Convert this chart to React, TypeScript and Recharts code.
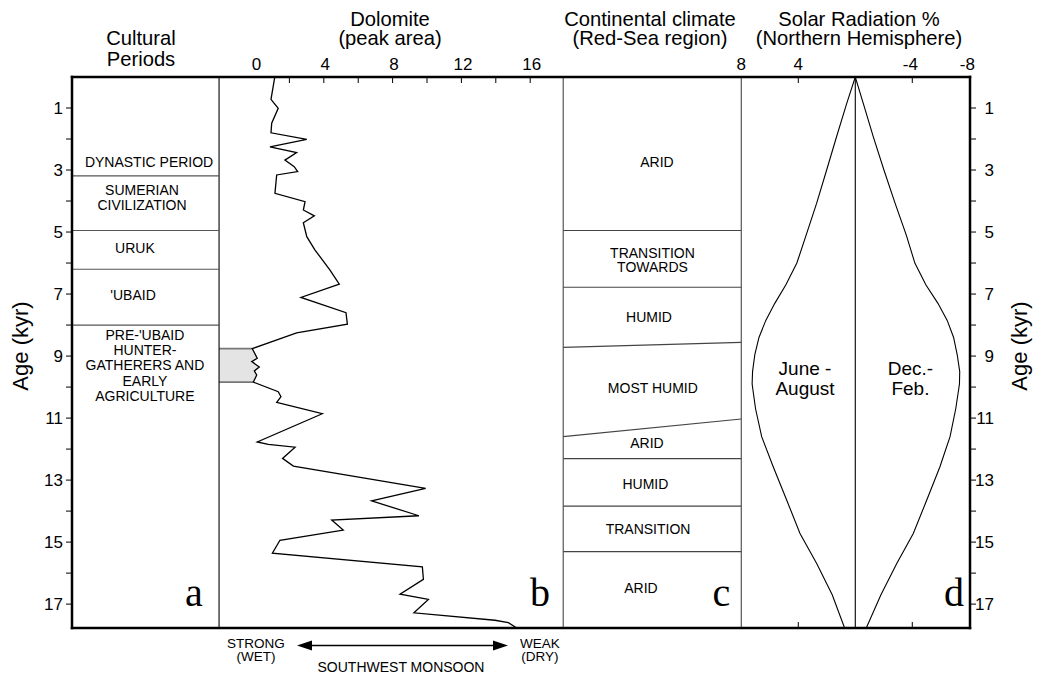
import React from 'react';
import { ComposedChart, Line, Area, XAxis, YAxis, ReferenceLine, ReferenceDot } from 'recharts';

// ---------------- data ----------------
const AGE_TICKS = [1, 2, 3, 4, 5, 6, 7, 8, 9, 10, 11, 12, 13, 14, 15, 16, 17];
const DOLOMITE_TICKS = [0, 2, 4, 6, 8, 10, 12, 14, 16];
const SOLAR_TICKS = [8, 4, -4, -8];
const SOLAR_BOTTOM_TICKS = [4, -4];

// Dolomite peak area vs age (kyr)
const DOL_AGE = [0, 0.72, 1.01, 1.49, 1.8, 2.01, 2.25, 2.44, 2.68, 2.89, 3.05, 3.16, 3.75, 4.02, 4.29, 4.48, 4.7, 5.15, 5.58, 6.23, 6.68, 7.11, 7.6, 7.97, 8.25, 8.76, 9.07, 9.18, 9.35, 9.48, 9.61, 9.84, 10.15, 10.31, 10.49, 10.86, 11.77, 11.85, 11.94, 12.3, 12.55, 13.27, 13.67, 14.15, 14.29, 14.61, 14.94, 15.36, 15.8, 16.2, 16.68, 16.85, 17.28, 17.52, 17.6, 17.77];
const DOL_VALUE = [1.15, 0.93, 1.35, 0.97, 0.93, 3.01, 0.87, 2.42, 1.74, 2.28, 2.48, 1.26, 1.16, 2.91, 2.81, 3.45, 2.81, 3.01, 3.49, 4.36, 4.9, 2.67, 5.29, 5.37, 2.42, -0.16, 0.13, -0.19, 0.25, -0.04, 0.1, -0.1, 1.35, 1.51, 1.26, 3.91, 0.13, 0.77, 2.33, 1.6, 2.23, 9.92, 6.78, 9.53, 4.46, 5.13, 1.45, 1.01, 9.73, 9.79, 8.43, 10.08, 9.24, 13.95, 14.73, 15.22];
const GRAY_BAND = [8.76, 9.84];

// Solar radiation anomaly (%)
const SOLAR_AGE = [0, 0.85, 1.92, 3.0, 4.07, 5.1, 6.0, 6.7, 7.3, 7.85, 8.4, 8.95, 9.5, 9.9, 10.7, 11.6, 12.57, 13.65, 14.72, 15.69, 16.7, 17.77];
const JUNE_AUGUST = [0, 0.6, 1.31, 2.01, 2.71, 3.45, 4.1, 4.87, 5.65, 6.28, 6.76, 7.05, 7.21, 7.24, 7.0, 6.57, 5.76, 4.81, 3.88, 2.71, 1.62, 0.75];
const DEC_FEB = [0, -0.56, -1.26, -2.01, -2.79, -3.58, -4.18, -4.95, -5.8, -6.45, -6.9, -7.15, -7.33, -7.31, -7.05, -6.65, -5.94, -5.01, -4.07, -2.91, -1.8, -0.77];

// Boundaries (kyr)
const CULTURAL_BOUNDS = [3.19, 4.95, 6.2, 8.0];
const CLIMATE_BOUNDS = [[4.95, 4.95], [6.78, 6.78], [8.72, 8.56], [11.6, 11.03], [12.31, 12.31], [13.84, 13.84], [15.31, 15.31]];

const CULTURAL_NAMES = [['DYNASTIC PERIOD'], ['SUMERIAN', 'CIVILIZATION'], ['URUK'], ["'UBAID"], ["PRE-'UBAID", 'HUNTER-', 'GATHERERS AND', 'EARLY', 'AGRICULTURE']];
const CLIMATE_NAMES = [['ARID'], ['TRANSITION', 'TOWARDS'], ['HUMID'], ['MOST HUMID'], ['ARID'], ['HUMID'], ['TRANSITION'], ['ARID']];
const SEASON_NAMES = [['June -', 'August'], ['Dec.-', 'Feb.']];

// ---------------- layout ----------------
const W = 1040;
const H = 675;
const AX = 1; // thickness given to each axis box
const MARGIN = { top: 77 - 2 * AX, right: 70 - AX, bottom: 47 - AX, left: 72 - AX };
const AGE_DOMAIN: [number, number] = [0, 17.77];
const DOL_DOMAIN: [number, number] = [-10.64, 41.57];
const SOL_DOMAIN: [number, number] = [-8.05, 54.97];
const PANEL_AB = -2.09; // dolomite units
const PANEL_BC = 17.92; // dolomite units
const PANEL_CD_DOL = 28.27; // dolomite units
const PANEL_CD_SOL = 8; // solar units

const CULTURAL_POS = [[-6.16, 2.91], [-6.57, 3.81], [-6.98, 5.67], [-7.09, 7.19], [-6.4, 8.48]];
const CLIMATE_POS = [[23.37, 2.9], [23.11, 5.83], [22.91, 7.9], [23.13, 10.2], [22.79, 11.98], [22.7, 13.3], [22.85, 14.74], [22.44, 16.65]];
const SEASON_POS = [[3.53, 9.61], [-3.87, 9.61]];
const LETTER_AGE = 17.06;

const SANS = '"Liberation Sans", Arial, Helvetica, sans-serif';
const SERIF = '"Liberation Serif", "Times New Roman", serif';
const FRAME = { stroke: '#000', strokeWidth: 2.5, strokeLinecap: 'square' as const };
const TITLE = 20.2;

const dolData = DOL_AGE.map((age, i) => ({ age, v: DOL_VALUE[i] }));
const grayData = dolData.filter((d) => d.age >= GRAY_BAND[0] && d.age <= GRAY_BAND[1]);
const solarData = SOLAR_AGE.map((age, i) => ({ age, jja: JUNE_AUGUST[i], djf: DEC_FEB[i] }));

function textShape(lines: string[], size: number, lineHeight: number, family: string) {
  return (p: any) => (
    <text x={p.cx} y={p.cy} textAnchor="middle" fontSize={size} fontFamily={family} fill="#000">
      {lines.map((l, i) => (
        <tspan key={i} x={p.cx} dy={i === 0 ? 0 : lineHeight}>
          {l}
        </tspan>
      ))}
    </text>
  );
}

const DolTick = (p: any) => {
  const v = p.payload.value;
  return (
    <g>
      {v !== 0 && <line x1={p.x} y1={p.y} x2={p.x} y2={p.y + 6} stroke="#000" strokeWidth={1} />}
      {v % 4 === 0 && (
        <text x={p.x + 1.5} y={p.y - 7} textAnchor="middle" fontSize={17} fontFamily={SANS} fill="#000">
          {v}
        </text>
      )}
    </g>
  );
};

// the solar top axis is stacked one axis box above the dolomite one
const SolTick = (p: any) => {
  const v = p.payload.value;
  const y = p.y + AX;
  return (
    <g>
      {Math.abs(v) === 4 && <line x1={p.x} y1={y} x2={p.x} y2={y + 6} stroke="#000" strokeWidth={1} />}
      <text x={v < 0 ? p.x - 2 : p.x} y={y - 7} textAnchor="middle" fontSize={17} fontFamily={SANS} fill="#000">
        {v}
      </text>
    </g>
  );
};

const BottomTick = (p: any) => (
  <line x1={p.x} y1={p.y} x2={p.x} y2={p.y - 6} stroke="#000" strokeWidth={1} />
);

const LeftTick = (p: any) => {
  const v = p.payload.value;
  return (
    <g>
      <line x1={p.x - 6} y1={p.y} x2={p.x} y2={p.y} stroke="#000" strokeWidth={1} />
      {v % 2 === 1 && (
        <text x={p.x - 9} y={p.y + 6} textAnchor="end" fontSize={17} fontFamily={SANS} fill="#000">
          {v}
        </text>
      )}
    </g>
  );
};

const RightTick = (p: any) => {
  const v = p.payload.value;
  return (
    <g>
      <line x1={p.x} y1={p.y} x2={p.x + 6} y2={p.y} stroke="#000" strokeWidth={1} />
      {v % 2 === 1 && (
        <text x={p.x + 24} y={p.y + 6} textAnchor="end" fontSize={17} fontFamily={SANS} fill="#000">
          {v}
        </text>
      )}
    </g>
  );
};

export default function App() {
  return (
    <div style={{ position: 'absolute', left: 0, top: 0, width: W, height: H, background: '#fff' }}>
      <div style={{ position: 'absolute', left: 0, top: 0 }}>
        <ComposedChart width={W} height={H} layout="vertical" margin={MARGIN}>
          <XAxis xAxisId="dol" type="number" orientation="top" domain={DOL_DOMAIN} allowDataOverflow ticks={DOLOMITE_TICKS} interval={0} height={AX} tickSize={0} tickMargin={0} tickLine={false} tick={(p: any) => <DolTick {...p} />} axisLine={FRAME} />
          <XAxis xAxisId="sol" type="number" orientation="top" domain={SOL_DOMAIN} reversed allowDataOverflow ticks={SOLAR_TICKS} interval={0} height={AX} tickSize={0} tickMargin={0} tickLine={false} tick={(p: any) => <SolTick {...p} />} axisLine={false} />
          <XAxis xAxisId="solBottom" type="number" orientation="bottom" domain={SOL_DOMAIN} reversed allowDataOverflow ticks={SOLAR_BOTTOM_TICKS} interval={0} height={AX} tickSize={0} tickMargin={0} tickLine={false} tick={(p: any) => <BottomTick {...p} />} axisLine={FRAME} />
          <YAxis yAxisId="left" type="number" dataKey="age" orientation="left" domain={AGE_DOMAIN} allowDataOverflow ticks={AGE_TICKS} interval={0} width={AX} tickSize={0} tickMargin={0} tickLine={false} tick={(p: any) => <LeftTick {...p} />} axisLine={FRAME} />
          <YAxis yAxisId="right" type="number" dataKey="age" orientation="right" domain={AGE_DOMAIN} allowDataOverflow ticks={AGE_TICKS} interval={0} width={AX} tickSize={0} tickMargin={0} tickLine={false} tick={(p: any) => <RightTick {...p} />} axisLine={FRAME} />

          {/* gray band (wettest interval) */}
          <Area data={grayData} dataKey="v" xAxisId="dol" yAxisId="left" baseValue={PANEL_AB} type="linear" stroke="none" fill="#e4e4e4" fillOpacity={1} isAnimationActive={false} />
          <ReferenceLine xAxisId="dol" yAxisId="left" segment={[{ x: PANEL_AB, y: grayData[0].age }, { x: grayData[0].v, y: grayData[0].age }]} stroke="#777" strokeWidth={1.6} ifOverflow="visible" />
          <ReferenceLine xAxisId="dol" yAxisId="left" segment={[{ x: PANEL_AB, y: grayData[grayData.length - 1].age }, { x: grayData[grayData.length - 1].v, y: grayData[grayData.length - 1].age }]} stroke="#777" strokeWidth={1.6} ifOverflow="visible" />

          {/* panel dividers */}
          <ReferenceLine xAxisId="dol" yAxisId="left" x={PANEL_AB} stroke="#000" strokeWidth={1.1} />
          <ReferenceLine xAxisId="dol" yAxisId="left" x={PANEL_BC} stroke="#555" strokeWidth={1.2} />
          <ReferenceLine xAxisId="sol" yAxisId="left" x={PANEL_CD_SOL} stroke="#555" strokeWidth={1.2} />
          <ReferenceLine xAxisId="sol" yAxisId="left" x={0} stroke="#000" strokeWidth={1.1} />

          {/* cultural period boundaries */}
          {CULTURAL_BOUNDS.map((a, i) => (
            <ReferenceLine key={'cb' + i} xAxisId="dol" yAxisId="left" segment={[{ x: DOL_DOMAIN[0], y: a }, { x: PANEL_AB, y: a }]} stroke="#555" strokeWidth={1.2} ifOverflow="visible" />
          ))}
          {/* climate boundaries */}
          {CLIMATE_BOUNDS.map((b, i) => (
            <ReferenceLine key={'kb' + i} xAxisId="dol" yAxisId="left" segment={[{ x: PANEL_BC, y: b[0] }, { x: PANEL_CD_DOL, y: b[1] }]} stroke="#444" strokeWidth={1.2} ifOverflow="visible" />
          ))}

          <Line data={dolData} dataKey="v" xAxisId="dol" yAxisId="left" type="linear" stroke="#000" strokeWidth={1.3} dot={false} isAnimationActive={false} />
          <Line data={solarData} dataKey="jja" xAxisId="sol" yAxisId="left" type="linear" stroke="#000" strokeWidth={1.1} dot={false} isAnimationActive={false} />
          <Line data={solarData} dataKey="djf" xAxisId="sol" yAxisId="left" type="linear" stroke="#000" strokeWidth={1.1} dot={false} isAnimationActive={false} />

          {/* texts */}
          {CULTURAL_NAMES.map((lines, i) => (
            <ReferenceDot key={'ct' + i} xAxisId="dol" yAxisId="left" x={CULTURAL_POS[i][0]} y={CULTURAL_POS[i][1]} r={1} shape={textShape(lines, 14, 15.2, SANS)} />
          ))}
          {CLIMATE_NAMES.map((lines, i) => (
            <ReferenceDot key={'kt' + i} xAxisId="dol" yAxisId="left" x={CLIMATE_POS[i][0]} y={CLIMATE_POS[i][1]} r={1} shape={textShape(lines, 14, 14, SANS)} />
          ))}
          {SEASON_NAMES.map((lines, i) => (
            <ReferenceDot key={'st' + i} xAxisId="sol" yAxisId="left" x={SEASON_POS[i][0]} y={SEASON_POS[i][1]} r={1} shape={textShape(lines, 19, 20, SANS)} />
          ))}
          <ReferenceDot xAxisId="dol" yAxisId="left" x={-3.55} y={LETTER_AGE} r={1} shape={textShape(['a'], 40, 0, SERIF)} />
          <ReferenceDot xAxisId="dol" yAxisId="left" x={16.57} y={LETTER_AGE} r={1} shape={textShape(['b'], 40, 0, SERIF)} />
          <ReferenceDot xAxisId="dol" yAxisId="left" x={27.12} y={LETTER_AGE} r={1} shape={textShape(['c'], 40, 0, SERIF)} />
          <ReferenceDot xAxisId="sol" yAxisId="left" x={-6.93} y={LETTER_AGE} r={1} shape={textShape(['d'], 40, 0, SERIF)} />
        </ComposedChart>
      </div>
      <svg width={W} height={H} style={{ position: 'absolute', left: 0, top: 0, pointerEvents: 'none' }}>
        <g fontFamily={SANS} fill="#000" textAnchor="middle">
          <text x={141} y={44.5} fontSize={TITLE}>Cultural</text>
          <text x={141} y={65.5} fontSize={TITLE}>Periods</text>
          <text x={390} y={26} fontSize={TITLE}>Dolomite</text>
          <text x={390} y={45} fontSize={TITLE}>(peak area)</text>
          <text x={650} y={26} fontSize={TITLE}>Continental climate</text>
          <text x={650} y={45} fontSize={TITLE}>(Red-Sea region)</text>
          <text x={859} y={26} fontSize={TITLE}>Solar Radiation %</text>
          <text x={859} y={45} fontSize={TITLE}>(Northern Hemisphere)</text>
          <text transform="translate(28,346) rotate(-90)" fontSize={22}>Age (kyr)</text>
          <text transform="translate(1027,346) rotate(-90)" fontSize={22}>Age (kyr)</text>

          <text x={256} y={647.5} fontSize={13.5}>STRONG</text>
          <text x={256} y={660.5} fontSize={13.5}>(WET)</text>
          <text x={540} y={647.5} fontSize={13.5}>WEAK</text>
          <text x={540} y={660.5} fontSize={13.5}>(DRY)</text>
          <text x={401} y={672} fontSize={14}>SOUTHWEST MONSOON</text>
        </g>
        <line x1={310} y1={645.5} x2={495} y2={645.5} stroke="#000" strokeWidth={1.3} />
        <polygon points="297,645.5 312,640.5 312,650.5" fill="#000" />
        <polygon points="508,645.5 493,640.5 493,650.5" fill="#000" />
      </svg>
    </div>
  );
}
